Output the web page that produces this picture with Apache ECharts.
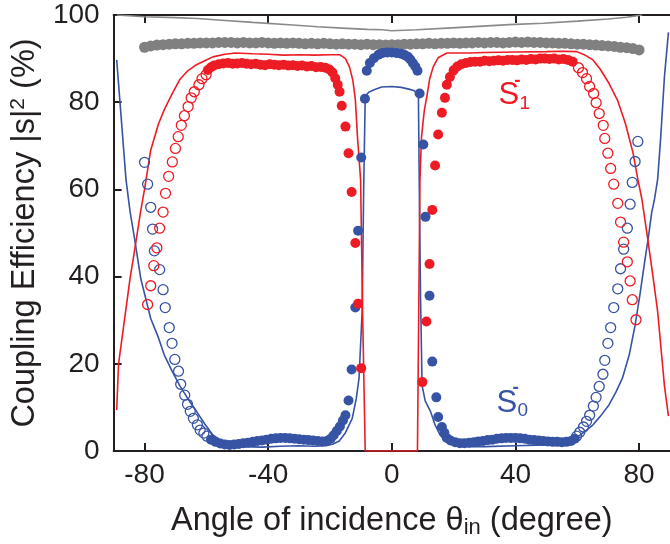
<!DOCTYPE html>
<html>
<head>
<meta charset="utf-8">
<script src="https://cdn.jsdelivr.net/npm/echarts@6/dist/echarts.min.js"></script>
<style>html,body{margin:0;padding:0;background:#fff}#c{width:670px;height:544px}</style>
</head>
<body>
<div id="c"></div>
<script>
// ---- data ----
const xTicks = [-80, -40, 0, 40, 80];
const yTicks = [0, 20, 40, 60, 80, 100];

const grayLine = [[-89,100],[-80,99.6],[-70,99.4],[-63,99.2],[-55,98.8],[-45,98.3],[-32,97.7],[-24,97.3],[-16,97.0],[-8,96.7],[-3,96.6],[0,96.4],[4,96.5],[8,96.6],[18,97.0],[28,97.4],[38,97.8],[49,98.1],[60,98.6],[70,99.1],[76,99.5],[81,100]];

const grayDots = [[-80,92.6],[-78,92.9],[-76,93.1],[-74,93.2],[-72,93.3],[-70,93.4],[-68,93.4],[-66,93.5],[-64,93.5],[-62,93.6],[-60,93.6],[-58,93.6],[-56,93.7],[-54,93.7],[-52,93.7],[-50,93.6],[-48,93.7],[-46,93.6],[-44,93.6],[-42,93.7],[-40,93.6],[-38,93.5],[-36,93.6],[-34,93.5],[-32,93.6],[-30,93.5],[-28,93.4],[-26,93.5],[-24,93.4],[-22,93.5],[-20,93.4],[-18,93.3],[-16,93.4],[-14,93.3],[-12,93.3],[-10,93.2],[-8,93.3],[-6,93.2],[-4,93.2],[-2,93.1],[0,93.2],[2,93.2],[4,93.3],[6,93.3],[8,93.4],[10,93.4],[12,93.5],[14,93.4],[16,93.5],[18,93.5],[20,93.6],[22,93.5],[24,93.6],[26,93.6],[28,93.7],[30,93.6],[32,93.7],[34,93.7],[36,93.6],[38,93.7],[40,93.8],[42,93.7],[44,93.8],[46,93.7],[48,93.7],[50,93.6],[52,93.6],[54,93.5],[56,93.5],[58,93.4],[60,93.3],[62,93.3],[64,93.2],[66,93.1],[68,93.0],[70,92.9],[72,92.8],[74,92.6],[76,92.5],[78,92.3],[80,92.0]];

const redLine = [[-89,9.4],[-88.4,20],[-86.5,30],[-84.7,39.5],[-83,47],[-81.3,54.8],[-80,60],[-78,69],[-75.5,75],[-73.6,78.3],[-71,82],[-68.6,85.2],[-66,87.2],[-63.2,88.6],[-60,89.7],[-57.9,90.4],[-54,91],[-50.6,91.3],[-45,91.1],[-40,91.0],[-35,90.8],[-30,90.9],[-25,90.8],[-20,90.9],[-16.9,90.9],[-15,90],[-13.7,88.1],[-12.6,85],[-11.8,80.6],[-11.1,72],[-10.1,62.3],[-9.4,30],[-8.6,0],[8.3,0],[9.1,62],[9.6,72],[10.5,78],[11.5,82],[12.3,85.5],[13.4,88.1],[15,90.2],[17.8,91.3],[25,91.3],[30,91.4],[40,91.5],[50,91.6],[55,91.7],[59.8,91.6],[62.5,90.8],[65.1,89.7],[67.5,87.5],[70.2,84.4],[73,80.5],[75.5,75.3],[78,68.5],[79.6,62.3],[80.9,57.8],[82.8,48.6],[84.5,40],[86,32],[88.2,15],[89.5,8]];

const blueLine = [[-89,89.7],[-87.5,76],[-86,62.3],[-84.7,55],[-83.2,48.6],[-81.2,39.5],[-78,30.4],[-75.5,26],[-73.6,22],[-71,18.2],[-68.6,15],[-66,12],[-63.2,9.1],[-60.5,6.2],[-57.9,3.7],[-55,2.2],[-52.8,1.4],[-48,1.0],[-42,0.9],[-36,1.1],[-30,1.2],[-25,1.1],[-21.3,1.2],[-19,1.6],[-17,2.3],[-15,4.2],[-12.8,7.5],[-11.5,12],[-10.6,16.7],[-9.6,32],[-9.1,60],[-8.6,81.3],[-7.5,82.3],[-5.5,82.9],[-3.3,83.5],[0,83.6],[3,83.4],[5.5,83],[7.1,82.7],[8.6,81.8],[8.9,60],[9.3,35],[9.8,15],[10.8,11.5],[12.5,9.1],[14,6],[15.6,3.7],[17.5,2.2],[19.7,1.4],[25,1.0],[30,1.0],[40,1.2],[50,1.4],[55,1.9],[57.6,2.3],[60,3.2],[62.5,4.5],[65.1,6],[67.5,8],[70.2,10.5],[72.5,13.5],[74.6,16.7],[76.8,22],[78.7,28.8],[80.3,36],[81.8,43.4],[83,49],[84.1,54.8],[85,57.8],[86,62.3],[87,72],[88.2,85.8],[89.5,96]];

const redFilled = [[-59.5,87.4],[-58.5,88.0],[-57.5,88.4],[-56,88.7],[-54.5,88.9],[-53,89.0],[-51.5,88.8],[-50,88.9],[-48.5,89.0],[-47,88.8],[-45.5,88.7],[-44,88.8],[-42.5,88.6],[-41,88.5],[-39.5,88.7],[-38,88.6],[-36.5,88.5],[-35,88.6],[-33.5,88.4],[-32,88.5],[-30.5,88.3],[-29,88.4],[-27.5,88.2],[-26,88.3],[-24.5,88.0],[-23,88.1],[-21.5,87.9],[-20.2,87.5],[-19.2,86.8],[-18.3,85.5],[-17.5,84.0],[-16.9,82.4],[-16.2,79.2],[-15,74.4],[-14,68.3],[-13,59.4],[-11.8,47.7],[-10.9,33.8],[-9.9,19.0],
  [9.9,15.8],[11.2,29.7],[12.2,42.9],[13.1,55.3],[14,65.5],[15,72.6],[16.2,77.6],[17.2,81],[17.8,84],[18.8,85.8],[20,87.3],[21.2,88.2],[22.5,88.7],[24,89.0],[25.5,89.2],[27,89.3],[28.5,89.3],[30,89.5],[31.5,89.4],[33,89.5],[34.5,89.6],[36,89.5],[37.5,89.7],[39,89.7],[40.5,89.6],[42,89.8],[43.5,89.7],[45,89.9],[46.5,89.8],[48,90.0],[49.5,90.0],[51,89.9],[52.5,90.0],[54,89.8],[55.5,89.9],[57,89.7],[58.5,89.3]];

const redHollow = [[-60.1,86.3],[-61.4,85.4],[-62.4,84],[-63.9,82.4],[-64.9,81],[-65.9,79],[-67.1,76.9],[-68.1,74.7],[-69.1,72.1],[-70,69.4],[-71,66.3],[-72.2,63],[-73.2,59.1],[-74,54.8],[-75.1,51.1],[-76,46.6],[-77,42.5],[-78,37.9],[-79,33.6],
  [60.4,87.9],[61.7,86.8],[63,85.4],[64,83.6],[65.3,82],[66.1,79.9],[67.1,77.4],[68.4,74.7],[68.9,71.7],[69.9,68.3],[70.8,64.8],[71.8,61.2],[73.1,56.8],[74,52.5],[75,47.9],[76.2,43.4],[77.1,39],[77.8,34.7],[79,30.1]];

const blueFilled = [[-58.5,2.6],[-57,2.1],[-55.5,1.7],[-54,1.5],[-52.5,1.4],[-51,1.5],[-49.5,1.6],[-48,1.8],[-46.5,1.9],[-45,2.1],[-43.5,2.3],[-42,2.4],[-40.5,2.6],[-39,2.8],[-37.5,2.9],[-36,3.0],[-34.5,3.0],[-33,2.9],[-31.5,2.8],[-30,2.7],[-28.5,2.6],[-27,2.5],[-25.5,2.4],[-24,2.3],[-22.5,2.2],[-21,2.3],[-19.8,2.8],[-18.8,3.6],[-17.8,4.6],[-16.8,5.6],[-15.8,7.0],[-15,8.2],[-14,11.6],[-13,18.7],[-11.8,32.9],[-10.9,50.5],[-9.9,67.3],[-8.7,80.8],
  [-8.1,87.2],[-7.1,89],[-5.8,90.1],[-4.3,90.9],[-3,91.3],[-1.5,91.4],[0,91.4],[1.5,91.3],[3,91.1],[4.2,90.8],[5.2,90.4],[6,89.8],[6.8,89],[7.6,88.2],[8.3,87.2],
  [9,82],[10.2,70.3],[10.9,53.7],[12.2,35.6],[13.1,20.5],[14.4,12.3],[15,7.8],[16.2,5.5],[17,4.2],[17.8,3.0],[19,2.4],[20.5,2.0],[22,1.8],[23.5,1.8],[25,1.9],[26.5,2.0],[28,2.2],[29.5,2.3],[31,2.5],[32.5,2.6],[34,2.8],[35.5,2.9],[37,3.0],[38.5,3.0],[40,3.0],[41.5,2.9],[43,2.8],[44.5,2.6],[46,2.5],[47.5,2.4],[49,2.3],[50.5,2.2],[52,2.1],[53.5,2.1],[55,2.0],[56.5,2.1],[58,2.3],[59.2,2.8]];

const blueHollow = [[-80,66.2],[-79,61.2],[-78,55.9],[-77.4,50.9],[-76.8,45.9],[-75.1,41.6],[-74,37],[-73.3,32.9],[-72,28.3],[-71.1,24.7],[-70.2,21],[-69,18.3],[-68.3,15.3],[-67,12.8],[-66.1,10.7],[-65.2,9.1],[-64.2,7.5],[-62.9,6],[-62,4.8],[-60.8,4.1],[-59.8,3.4],
  [59.8,3.4],[60.8,4.3],[62,5.5],[63,6.8],[64,8.2],[65.2,10.3],[66.1,12.3],[67.1,14.8],[68.3,17.6],[68.9,20.8],[69.9,24.7],[70.8,28.3],[71.8,32.9],[73.1,37.2],[74,41.8],[75,46.3],[76.2,51.1],[77.1,56.6],[77.8,61.6],[78.7,66.4],[79.6,71]];

// series labels: [angle, value] anchor of the "S" letter (left, vertical middle)
const seriesLabels = [
  {main: 'S', sub: '1', sup: '-', at: [34.5, 81.5], color: '#ed1c24'},
  {main: 'S', sub: '0', sup: '-', at: [33.9, 11], color: '#3653a4'}
];

// ---- chart ----
const RED = '#ed1c24', BLUE = '#3653a4', GRAY = '#808080', INK = '#231f20';
const FONT = 'Liberation Sans';
const chart = echarts.init(document.getElementById('c'), null, {renderer: 'canvas'});

const axisCommon = {
  min: -90, max: 90, type: 'value',
  axisLine: {show: true, onZero: false, lineStyle: {color: INK, width: 2}},
  splitLine: {show: false}
};

chart.setOption({
  animation: false,
  backgroundColor: '#fff',
  grid: {left: 105, top: 15, right: -6, bottom: 91},
  xAxis: [
    Object.assign({}, axisCommon, {
      position: 'bottom',
      axisTick: {show: true, inside: true, length: 8, customValues: xTicks, lineStyle: {color: INK, width: 2}},
      axisLabel: {customValues: xTicks, margin: 10, fontSize: 28, fontFamily: FONT, color: INK},
      name: '{t|Angle of incidence θ}{s|in}{t| (degree)}',
      nameLocation: 'middle', nameGap: 52,
      nameTextStyle: {rich: {
        t: {fontSize: 32.5, fontFamily: FONT, color: INK, lineHeight: 36},
        s: {fontSize: 22, fontFamily: FONT, color: INK, verticalAlign: 'bottom', lineHeight: 30, padding: [12, 0, 0, 0]}
      }}
    }),
    Object.assign({}, axisCommon, {
      position: 'top',
      axisTick: {show: true, inside: true, length: 8, customValues: xTicks, lineStyle: {color: INK, width: 2}},
      axisLabel: {show: false}
    })
  ],
  yAxis: [{
    type: 'value', min: 0, max: 100, interval: 20, position: 'left',
    axisLine: {show: true, onZero: false, lineStyle: {color: INK, width: 2}},
    axisTick: {show: true, inside: true, length: 8, lineStyle: {color: INK, width: 2}},
    axisLabel: {margin: 14, fontSize: 28, fontFamily: FONT, color: INK},
    splitLine: {show: false},
    name: '{t|Coupling Efficiency |s|}{p|2}{t| (%)}',
    nameLocation: 'middle', nameGap: 68, nameRotate: 90,
    nameTextStyle: {rich: {
      t: {fontSize: 32.5, fontFamily: FONT, color: INK},
      p: {fontSize: 21, fontFamily: FONT, color: INK, verticalAlign: 'top', padding: [0, 0, 14, 0]}
    }}
  }],
  series: [
    {type: 'line', data: grayLine, showSymbol: false, lineStyle: {color: '#8a8a8a', width: 1.6}, z: 1},
    {type: 'line', data: blueLine, showSymbol: false, lineStyle: {color: BLUE, width: 1.6}, z: 2},
    {type: 'line', data: redLine, showSymbol: false, lineStyle: {color: RED, width: 1.6}, z: 3},
    {type: 'scatter', data: grayDots, symbolSize: 11, itemStyle: {color: GRAY, opacity: 1}, z: 4},
    {type: 'scatter', data: blueHollow, symbolSize: 10, itemStyle: {color: 'rgba(0,0,0,0)', borderColor: BLUE, borderWidth: 1.3, opacity: 1}, z: 5},
    {type: 'scatter', data: redHollow, symbolSize: 10, itemStyle: {color: 'rgba(0,0,0,0)', borderColor: RED, borderWidth: 1.3, opacity: 1}, z: 6},
    {type: 'scatter', data: blueFilled, symbolSize: 10, itemStyle: {color: BLUE, opacity: 1}, z: 7},
    {type: 'scatter', data: redFilled, symbolSize: 10, itemStyle: {color: RED, opacity: 1}, z: 8}
  ]
});

// series name labels placed via the axes
const g = [];
seriesLabels.forEach(function (L) {
  const p = chart.convertToPixel({xAxisIndex: 0, yAxisIndex: 0}, L.at);
  g.push({type: 'text', x: p[0], y: p[1], z: 100,
    style: {text: L.main, fill: L.color, font: '31px "Liberation Sans"', align: 'left', verticalAlign: 'middle'}});
  g.push({type: 'text', x: p[0] + 21, y: p[1] + 8, z: 100,
    style: {text: L.sub, fill: L.color, font: '19px "Liberation Sans"', align: 'left', verticalAlign: 'middle'}});
  g.push({type: 'text', x: p[0] + 19, y: p[1] - 15, z: 100,
    style: {text: L.sup, fill: L.color, font: 'bold 19px "Liberation Sans"', align: 'center', verticalAlign: 'middle'}});
});
chart.setOption({graphic: g});
</script>
</body>
</html>
